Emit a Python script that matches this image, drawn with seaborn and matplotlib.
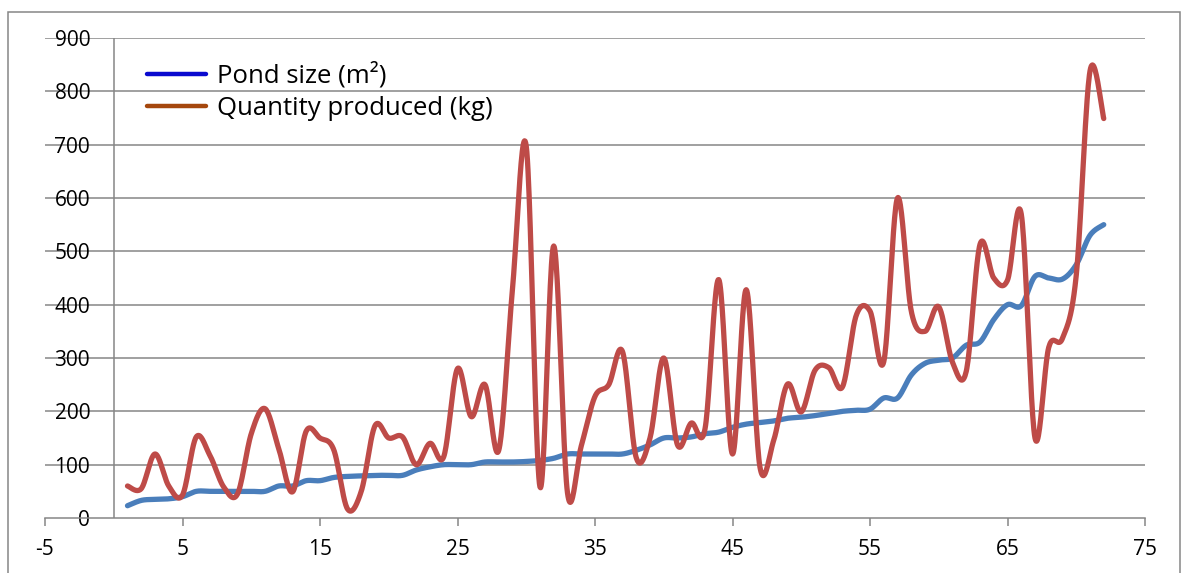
import numpy as np
import pandas as pd
import seaborn as sns
import matplotlib
matplotlib.use("Agg")
import matplotlib.pyplot as plt
from matplotlib.lines import Line2D
from matplotlib.patches import Rectangle

# Observation index (1..72)
obs = list(range(1, 73))

pond_size = [23, 33, 35, 36, 40, 50, 50, 50, 50, 50, 50, 60, 60, 70, 70, 76,
             78, 79, 80, 80, 80, 90, 96, 100, 100, 100, 105, 105, 105, 106,
             108, 112, 120, 120, 120, 120, 120, 127, 137, 150, 150, 152, 158,
             161, 170, 176, 179, 182, 187, 189, 192, 196, 200, 202, 204, 225,
             225, 268, 290, 296, 300, 324, 330, 372, 400, 398, 453, 450, 448,
             475, 530, 550]

quantity = [60, 55, 120, 60, 43, 152, 117, 58, 45, 158, 205, 130, 49, 163,
            150, 128, 17, 50, 173, 150, 152, 100, 140, 115, 280, 190, 250,
            127, 430, 697, 58, 510, 47, 135, 228, 250, 312, 113, 150, 300,
            137, 178, 167, 447, 120, 428, 95, 146, 251, 199, 277, 282, 246,
            380, 388, 293, 600, 388, 350, 396, 292, 275, 513, 450, 446, 570,
            150, 320, 337, 455, 838, 749]

series_names = ["Pond size (m\u00b2)", "Quantity produced (kg)"]
line_colors = ["#4A7EBB", "#BE4B48"]
legend_colors = ["#0A0ACF", "#A5470D"]

x_ticks = [-5, 5, 15, 25, 35, 45, 55, 65, 75]
y_ticks = [0, 100, 200, 300, 400, 500, 600, 700, 800, 900]


def smooth_curve(xs, ys, steps=24):
    """Bezier smoothing through every point (spreadsheet-style smoothed line)."""
    p = np.column_stack([xs, ys]).astype(float)
    p = np.vstack([p[0], p, p[-1]])
    t = np.linspace(0, 1, steps, endpoint=False)[:, None]
    out = []
    for i in range(1, len(p) - 2):
        p0, p1, p2, p3 = p[i - 1], p[i], p[i + 1], p[i + 2]
        c1 = p1 + (p2 - p0) / 6.0
        c2 = p2 - (p3 - p1) / 6.0
        seg = ((1 - t) ** 3) * p1 + 3 * ((1 - t) ** 2) * t * c1 \
            + 3 * (1 - t) * t ** 2 * c2 + t ** 3 * p2
        out.append(seg)
    out.append(p[-2][None, :])
    out = np.vstack(out)
    return out[:, 0], out[:, 1]


frames = []
for name, vals in zip(series_names, [pond_size, quantity]):
    sx, sy = smooth_curve(obs, vals)
    frames.append(pd.DataFrame({"x": sx, "y": sy, "series": name,
                                "order": np.arange(len(sx))}))
curves = pd.concat(frames, ignore_index=True)

sns.set_theme(style="white")
plt.rcParams["font.family"] = ["Open Sans", "DejaVu Sans"]

fig = plt.figure(figsize=(11.88, 5.73), dpi=100)
ax = fig.add_axes([45 / 1188, 1 - 518 / 573, 1100 / 1188, 480 / 573])

grid_gray = "#868686"

for yv in y_ticks[1:]:
    ax.axhline(yv, color=grid_gray, lw=1.1, zorder=0)
ax.plot([0, 0], [0, 900], color=grid_gray, lw=1.1, zorder=1)

sns.lineplot(data=curves, x="x", y="y", hue="series", palette=line_colors,
             hue_order=series_names, estimator=None, sort=False, units="series",
             lw=3.8, legend=False, ax=ax, zorder=3, solid_capstyle="round")

ax.set_xlim(-5, 75)
ax.set_ylim(0, 900)
ax.set_xticks(x_ticks)
ax.set_yticks(y_ticks)
ax.set_xticklabels([str(v) for v in x_ticks])
ax.set_yticklabels([str(v) for v in y_ticks])
ax.set_xlabel("")
ax.set_ylabel("")

for side in ["top", "right", "left"]:
    ax.spines[side].set_visible(False)
ax.spines["bottom"].set_color(grid_gray)
ax.spines["bottom"].set_linewidth(1.1)

ax.tick_params(axis="x", direction="out", length=6, width=1.1, color=grid_gray,
               labelsize=15, pad=9, labelcolor="black", bottom=True)
ax.tick_params(axis="y", length=0, labelsize=15, pad=-32.5, labelcolor="black")
for lab in ax.get_yticklabels():
    lab.set_zorder(5)

handles = [Line2D([0], [0], color=c, lw=3.2) for c in legend_colors]
ax.legend(handles, series_names, loc="upper left",
          bbox_to_anchor=(92 / 1100, 1 - 14 / 480), frameon=False,
          fontsize=18.5, handlelength=2.3, handletextpad=0.42,
          labelspacing=0.3, borderaxespad=0, labelcolor="black")

# outer chart border
fig.patches.append(Rectangle((8 / 1188, -0.01), 1172 / 1188, 1 - 12 / 573 + 0.01,
                             transform=fig.transFigure, fill=False,
                             edgecolor=grid_gray, lw=1.1))

fig.savefig("out.png", dpi=100)
